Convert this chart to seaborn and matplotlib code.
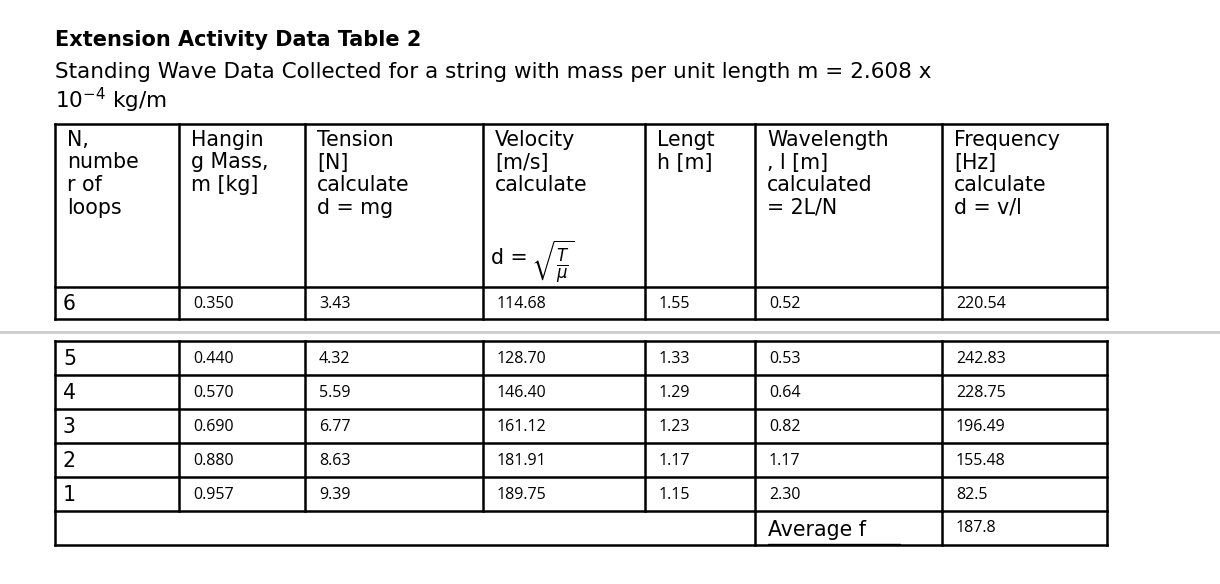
import matplotlib
matplotlib.use("Agg")
import matplotlib.pyplot as plt
import seaborn as sns

sns.set_style("white")
plt.rcParams['font.family'] = ['DejaVu Sans']
plt.rcParams['text.color'] = 'black'

title = "Extension Activity Data Table 2"
subtitle1 = "Standing Wave Data Collected for a string with mass per unit length m = 2.608 x"
subtitle2 = "10$^{-4}$ kg/m"
headers = [
    ["N,", "numbe", "r of", "loops"],
    ["Hangin", "g Mass,", "m [kg]"],
    ["Tension", "[N]", "calculate", "d = mg"],
    ["Velocity", "[m/s]", "calculate"],
    ["Lengt", "h [m]"],
    ["Wavelength", ", l [m]", "calculated", "= 2L/N"],
    ["Frequency", "[Hz]", "calculate", "d = v/l"],
]
N_loops = ["6", "5", "4", "3", "2", "1"]
mass = ["0.350", "0.440", "0.570", "0.690", "0.880", "0.957"]
tension = ["3.43", "4.32", "5.59", "6.77", "8.63", "9.39"]
velocity = ["114.68", "128.70", "146.40", "161.12", "181.91", "189.75"]
length = ["1.55", "1.33", "1.29", "1.23", "1.17", "1.15"]
wavelength = ["0.52", "0.53", "0.64", "0.82", "1.17", "2.30"]
frequency = ["220.54", "242.83", "228.75", "196.49", "155.48", "82.5"]
avg_label = "Average f"
avg_value = "187.8"

W, H = 1220, 584
fig = plt.figure(figsize=(W / 100, H / 100), dpi=100)
ax = fig.add_axes([0, 0, 1, 1])
ax.set_xlim(0, W)
ax.set_ylim(H, 0)
ax.axis("off")

cols = [55, 179, 305, 483, 645, 755, 942, 1107]
lw = 1.8
hdr_fs = 14.8
dat_fs = 11.5
dat_font = ['Open Sans', 'DejaVu Sans']

ax.text(55, 40, title, fontsize=15, fontweight="bold", va="center")
ax.text(55, 72, subtitle1, fontsize=15.5, va="center")
ax.text(55, 100, subtitle2, fontsize=15.5, va="center")

def hline(y, x0=cols[0], x1=cols[-1]):
    ax.plot([x0, x1], [y, y], color="black", lw=lw, solid_capstyle="projecting")

def vline(x, y0, y1):
    ax.plot([x, x], [y0, y1], color="black", lw=lw, solid_capstyle="projecting")

# Table 1
t1_top, t1_hdr, t1_bot = 124, 287, 319
for y in (t1_top, t1_hdr, t1_bot):
    hline(y)
for x in cols:
    vline(x, t1_top, t1_bot)
for ci, lines in enumerate(headers):
    for li, s in enumerate(lines):
        ax.text(cols[ci] + 12, 140 + li * 22.5, s, fontsize=hdr_fs, va="center")
ax.text(cols[3] + 8, 258, "d = ", fontsize=hdr_fs, va="center")
ax.text(cols[3] + 48, 262, r"$\sqrt{\frac{T}{\mu}}$", fontsize=17, va="center")

# separator
ax.plot([0, W], [332, 332], color="#cccccc", lw=2)

columns = [mass, tension, velocity, length, wavelength, frequency]

def draw_row(i, yc):
    ax.text(cols[0] + 8, yc, N_loops[i], fontsize=hdr_fs, va="center")
    for ci, col in enumerate(columns):
        ax.text(cols[ci + 1] + 14, yc, col[i], fontsize=dat_fs, va="center", family=dat_font)

draw_row(0, (t1_hdr + t1_bot) / 2 + 1)

# Table 2
rows_y = [341, 375, 409, 443, 477, 511, 545]
for y in rows_y:
    hline(y)
for x in cols:
    vline(x, rows_y[0], rows_y[5])
for x in (cols[0], cols[5], cols[6], cols[7]):
    vline(x, rows_y[5], rows_y[6])
for i in range(1, 6):
    draw_row(i, (rows_y[i - 1] + rows_y[i]) / 2 + 1)
ax.text(cols[5] + 13, (rows_y[5] + rows_y[6]) / 2 + 2, avg_label, fontsize=hdr_fs, va="center")
ax.plot([cols[5] + 13, cols[5] + 145], [544, 544], color="black", lw=1)
ax.text(cols[6] + 14, (rows_y[5] + rows_y[6]) / 2, avg_value, fontsize=dat_fs, va="center", family=dat_font)

fig.savefig("out.png", dpi=100)
